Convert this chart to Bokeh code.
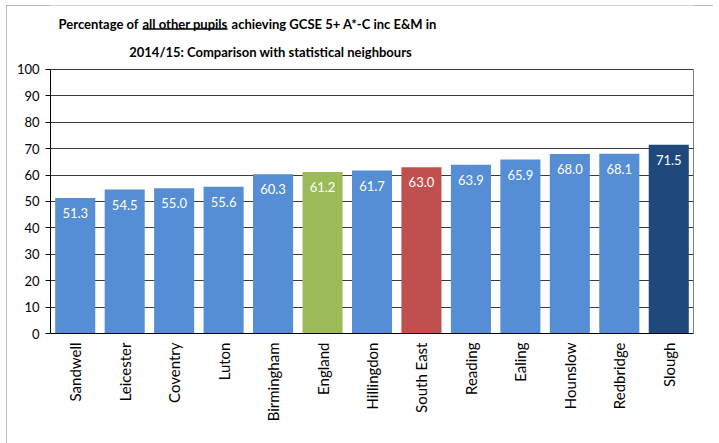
from bokeh.plotting import figure
from bokeh.models import ColumnDataSource, LabelSet, Label, FixedTicker, Range1d
from bokeh.core.properties import value
from bokeh.embed import file_html
from bokeh.resources import INLINE
import math

areas = ["Sandwell", "Leicester", "Coventry", "Luton", "Birmingham", "England",
         "Hillingdon", "South East", "Reading", "Ealing", "Hounslow", "Redbridge", "Slough"]
values = [51.3, 54.5, 55.0, 55.6, 60.3, 61.2, 61.7, 63.0, 63.9, 65.9, 68.0, 68.1, 71.5]
bar_colors = ["#558ED5", "#558ED5", "#558ED5", "#558ED5", "#558ED5", "#9BBB59",
              "#558ED5", "#C0504D", "#558ED5", "#558ED5", "#558ED5", "#558ED5", "#1F497D"]
y_ticks = [0, 10, 20, 30, 40, 50, 60, 70, 80, 90, 100]
y_max = 100

FONT = "Lato"

src = ColumnDataSource(dict(area=areas, value=values, color=bar_colors,
                            label=[f"{v:.1f}" for v in values]))

# frame extends up to the top of the figure so the title (drawn as labels) is not clipped
p = figure(x_range=areas, y_range=Range1d(0, 124.24), width=707, height=438,
           output_backend="svg", toolbar_location=None,
           min_border_left=44, min_border_top=0, min_border_right=20, min_border_bottom=110)
p.styles = {"position": "relative", "left": "6px", "top": "5px",
            "outline": "1px solid #a6a6a6", "outline-offset": "-1px"}

p.vbar(x="area", top="value", width=0.81, color="color", source=src, line_color=None)

p.add_layout(LabelSet(x="area", y="value", text="label", source=src, y_offset=-10,
                      text_align="center", text_baseline="top", text_color="white",
                      text_font=value(FONT), text_font_size="13px"))

p.outline_line_color = None
p.xgrid.grid_line_color = None
p.ygrid.grid_line_color = "#3a3a3a"
p.ygrid.grid_line_width = 1

# right border of the plot area
n = len(areas)
p.segment(x0=[n], x1=[n], y0=[0], y1=[y_max], line_color="black", line_width=1)

p.yaxis.ticker = FixedTicker(ticks=y_ticks)
p.yaxis.bounds = (0, y_max)
p.yaxis.major_tick_out = 5
p.yaxis.major_tick_in = 0
p.yaxis.minor_tick_line_color = None
p.yaxis.major_label_standoff = 6
p.yaxis.axis_line_color = "black"
p.yaxis.major_tick_line_color = "black"
p.yaxis.major_label_text_font = FONT
p.yaxis.major_label_text_font_size = "13px"
p.yaxis.major_label_text_color = "black"

p.xaxis.major_tick_line_color = None
p.xaxis.major_tick_out = 0
p.xaxis.major_label_standoff = 9
p.xaxis.axis_line_color = "black"
p.xaxis.major_label_orientation = math.pi / 2
p.xaxis.major_label_text_font = FONT
p.xaxis.major_label_text_font_size = "15px"
p.xaxis.major_label_text_color = "black"

# Title
title_kw = dict(text_font=FONT, text_font_size="13px", text_font_style="bold",
                text_color="black", text_baseline="alphabetic")
ux0, ux1 = 1.86, 3.58
ux_mid = (ux0 + ux1) / 2
p.add_layout(Label(x=ux0, y=117.05, text="Percentage of", x_offset=-4, text_align="right", **title_kw))
p.add_layout(Label(x=ux_mid, y=117.05, text="all other pupils", text_align="center", **title_kw))
p.add_layout(Label(x=ux1, y=117.05, text="achieving GCSE 5+ A*-C inc E&M in", x_offset=4,
                   text_align="left", **title_kw))
p.add_layout(Label(x=4.45, y=106.8, text="2014/15: Comparison with statistical neighbours",
                   text_align="center", **title_kw))
p.segment(x0=[ux0], x1=[ux1], y0=[115.3], y1=[115.3], line_color="black", line_width=1.5)

open("out.html", "w").write(file_html(p, INLINE))
